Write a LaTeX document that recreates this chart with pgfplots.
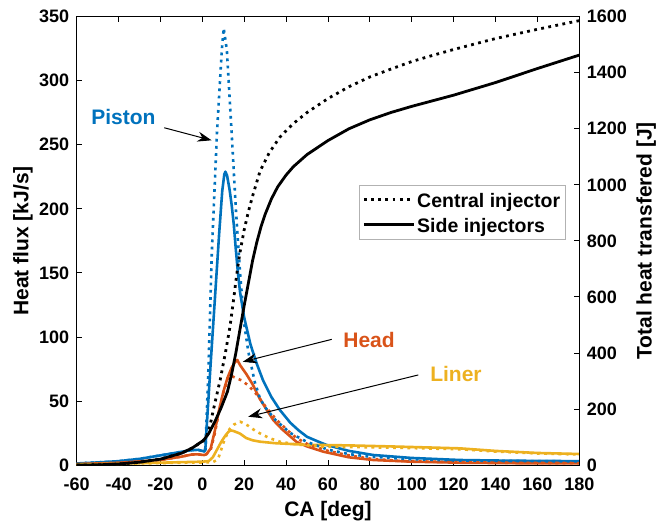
\documentclass[border=0pt]{standalone}
\usepackage{fontspec}
\setmainfont{Liberation Sans}
\usepackage{pgfplots}
\pgfplotsset{compat=1.18}
\usetikzlibrary{arrows.meta}
\definecolor{mblue}{RGB}{0,114,189}
\definecolor{morange}{RGB}{217,83,25}
\definecolor{myellow}{RGB}{237,177,32}
\pgfplotsset{
  common/.style={
    scale only axis, width=502.6pt, height=448.3pt,
    xmin=-60, xmax=180,
    tick align=inside, major tick length=5pt,
    axis line style={line width=0.8pt},
    every tick/.style={line width=0.8pt, black},
    ticklabel style={font=\bfseries\fontsize{18}{21}\selectfont},
    label style={font=\bfseries\fontsize{21}{25}\selectfont},
  },
  sol/.style={line width=2.6pt, line join=round},
  dot/.style={line width=2.6pt, dash pattern=on 2.8pt off 4.4pt},
}
\begin{document}
\begin{tikzpicture}
\begin{axis}[common,
  ymin=0, ymax=350,
  xtick={-60,-40,...,180},
  xticklabels={-60,-40,-20,0,20,40,60,80,100,120,140,160,180},
  ytick={0,50,...,350},
  yticklabels={0,50,100,150,200,250,300,350},
  xtick pos=both, xticklabel pos=bottom, ytick pos=left,
  xticklabel style={yshift=-9pt},
  yticklabel style={xshift=-4pt},
  xlabel={CA [deg]}, ylabel={Heat flux [kJ/s]},
  xlabel style={at={(axis description cs:0.5,0)}, anchor=center, yshift=-46.2pt},
  ylabel style={at={(axis description cs:0,0.5)}, anchor=center, yshift=53.7pt},
  clip=false]
\coordinate (bl) at (rel axis cs:0,0);
\coordinate (tr) at (rel axis cs:1,1);
% Piston solid
\addplot[sol, mblue] coordinates {(-60,1.2) (-50,2) (-40,3) (-30,4.8) (-20,7.5) (-10,10.3) (-5,11.6) (-2,11.8) (0,11) (1,10.5) (1.5,14) (2,28) (4,80) (6,130) (8,180) (9.5,214) (10.5,227) (11,229) (11.8,226) (13,215) (14,203) (15,188) (16,168) (17,150) (18,135) (20,115) (23,94) (26,79) (29,66) (33,53) (37,43) (42,33) (46,27) (50,22) (55,18.5) (59.4,15.6) (70,11) (81.6,7.8) (100,5.5) (123,3.9) (140,3.5) (160,3.2) (180,3)};
% Head solid
\addplot[sol, morange] coordinates {(-60,0.8) (-50,1.2) (-40,1.8) (-30,2.8) (-20,4) (-10,6.5) (-5,8.2) (-2,8.3) (0,7.9) (1,7.8) (2,8.5) (4,13) (6,27) (8,43) (10,57) (12,68) (14,76) (15.5,80) (16.7,82) (18,78) (21,71) (24,63) (27,53) (30,45) (33.9,35) (38,28) (45,18) (50,14.5) (57.8,10.4) (70,6) (81.6,3.9) (100,2.6) (123,1.8) (150,1.4) (180,1.3)};
% Liner solid
\addplot[sol, myellow] coordinates {(-60,0.5) (-40,1) (-20,1.8) (-10,2.2) (0,2.6) (3,3) (5,6) (7,12) (9,18) (11,23) (12.5,26) (13.6,27) (15,26.5) (18,24.5) (21,21) (24,19.3) (27.5,18.2) (35,17) (49.8,15.8) (70,15.3) (90,14.5) (110,13.6) (123,13) (140,11) (160,9.4) (180,8.6)};
% Piston dotted
\addplot[dot, mblue] coordinates {(-60,1.2) (-50,2) (-40,3) (-30,4.8) (-20,7.5) (-10,10.3) (-5,11.6) (-2,11.8) (0,11) (1,10.6) (1.5,12) (3,80) (4.5,165) (7,260) (9.3,324) (10.2,341) (11.7,324) (14,259) (16,200) (18,150) (20,110) (22,88) (25,65) (27.5,52) (30,45) (35,35) (42,25) (50,18) (60,12) (70,8.5) (80,6.5) (100,4.5) (120,3.6) (140,3.2) (160,3) (180,2.8)};
% Head dotted
\addplot[dot, morange] coordinates {(-60,0.8) (-50,1.2) (-40,1.8) (-30,2.8) (-20,4) (-10,6.5) (-5,8.2) (-2,8.3) (0,7.9) (1,7.8) (2,8.5) (4,12) (6,25) (8,42) (10,56) (12,66) (13.2,70) (16,68) (18.8,66) (22,62) (26,55) (30,46) (35,36) (40,28) (45,21) (50,16.5) (60,11) (70,7.5) (80,5) (94,3.2) (120,2.2) (150,1.7) (180,1.5)};
% Liner dotted
\addplot[dot, myellow] coordinates {(-60,0.5) (-40,0.9) (-20,1.5) (0,2) (5,2.2) (7,4) (8,7) (9,12) (10,17) (11.5,23) (13,28) (15,31.5) (18,33.8) (20,32.5) (22,30.5) (25,27) (27.5,24.7) (32,21) (37,18.2) (45,16) (57.8,14.3) (80,13.8) (100,13.2) (123,12.3) (140,10.5) (160,9) (180,8.2)};
% annotations
\node[text=mblue, font=\bfseries\fontsize{21}{25}\selectfont] at (axis cs:-37.7,271.4) {Piston};
\draw[-{Stealth[length=14pt,width=10pt]}, line width=1pt] (axis cs:-18.2,263.3) -- (axis cs:4.4,253.5);
\node[text=morange, font=\bfseries\fontsize{21}{25}\selectfont] at (axis cs:79.6,97.6) {Head};
\draw[-{Stealth[length=14pt,width=10pt]}, line width=1pt] (axis cs:61.8,98.1) -- (axis cs:19.3,80.6);
\node[text=myellow, font=\bfseries\fontsize{21}{25}\selectfont] at (axis cs:121.1,71) {Liner};
\draw[-{Stealth[length=14pt,width=10pt]}, line width=1pt] (axis cs:103.1,70.3) -- (axis cs:21.9,37.7);
\end{axis}
\begin{axis}[common,
  ymin=0, ymax=1600,
  axis x line=none, axis y line*=right,
  ytick={0,200,...,1600},
  yticklabels={0,200,400,600,800,1000,1200,1400,1600},
  yticklabel style={xshift=4pt},
  ylabel={Total heat transfered [J]},
  ylabel style={at={(axis description cs:1,0.5)}, anchor=center, yshift=-67pt},
  legend style={at={(axis description cs:0.5617,0.6255)}, anchor=north west,
    draw=gray!60, line width=0.8pt, inner xsep=3pt, inner ysep=2.35pt,
    font=\bfseries\fontsize{19.5}{23}\selectfont, cells={anchor=west},
    nodes={inner xsep=2pt, inner ysep=2pt, text height=18pt, text depth=3pt},
    row sep=0pt},
  legend image code/.code={\draw[#1] (0pt,0pt) -- (50pt,0pt);}]
\addplot[black, line width=2.8pt, dash pattern=on 2.8pt off 4.4pt] coordinates {(-60,0) (-50,0.5) (-40,3.6) (-30,10) (-20,21) (-10,42) (-5,60) (0,84) (1,90) (2,102) (3,122) (4,152) (5,188) (6.5,238) (8.5,303) (11,400) (13.2,494) (15,595) (16.4,680) (18,760) (20,840) (22,905) (24,960) (27.6,1050) (32,1115) (37,1170) (43.5,1219) (50,1258) (60,1308) (70,1350) (80,1385) (90,1413) (100,1440) (110,1462) (120,1483) (140,1522) (160,1555) (180,1586)};
\addlegendentry{Central injector}
\addplot[black, line width=2.8pt, line join=round] coordinates {(-60,0) (-50,0.5) (-40,3.6) (-30,10) (-20,21) (-10,42) (-5,60) (0,85) (1,92) (3,112) (6,155) (9,205) (12,262) (14,325) (16,400) (18,485) (20,570) (22,650) (24,730) (26,795) (28,850) (30,895) (33,950) (36,993) (40,1035) (43.5,1065) (50,1108) (60,1158) (70,1200) (80,1232) (90,1258) (100,1280) (110,1300) (120,1320) (140,1365) (160,1415) (180,1463)};
\addlegendentry{Side injectors}
\end{axis}
\pgfresetboundingbox
\path[use as bounding box] ([xshift=-76.7pt,yshift=-60pt]bl) rectangle ([xshift=78.7pt,yshift=16.7pt]tr);
\end{tikzpicture}
\end{document}
